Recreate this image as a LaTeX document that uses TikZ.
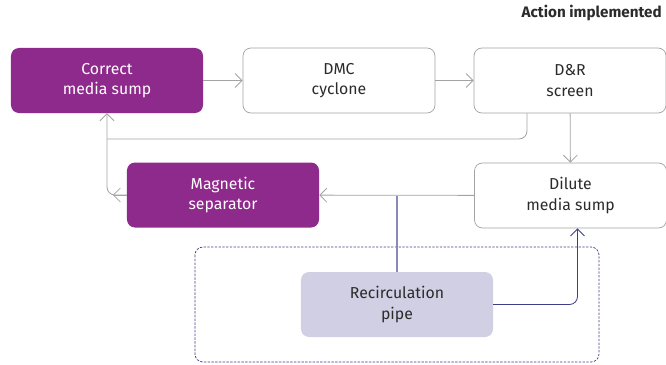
\documentclass[tikz,border=0pt]{standalone}
\usepackage{fontspec}
\setmainfont{Fira Sans}
\usetikzlibrary{arrows.meta}
\definecolor{sumppurple}{HTML}{8E2A8C}
\definecolor{flowgrey}{HTML}{A3A3A3}
\definecolor{pipenavy}{HTML}{3D3D8A}
\definecolor{pipelight}{HTML}{8A8AB8}
\definecolor{pipefill}{HTML}{D1CFE4}
\definecolor{textdark}{HTML}{2B2B2B}
\tikzset{
  unit/.style={rounded corners=0.24cm,minimum width=5.76cm,minimum height=1.95cm,align=center,font=\fontsize{13.5}{17.5}\selectfont},
  plainunit/.style={unit,draw=flowgrey,fill=white,text=textdark,line width=0.6pt},
  actunit/.style={unit,fill=sumppurple,text=white},
  pipeunit/.style={unit,fill=pipefill,text=textdark},
  flow/.style={draw=flowgrey,line width=0.7pt,-{Straight Barb[length=6pt,width=12pt]}},
  flowline/.style={draw=flowgrey,line width=0.7pt},
  pipe/.style={draw=pipenavy,line width=0.7pt},
  pipefeed/.style={draw=pipelight,line width=1pt}
}
\begin{document}
\begin{tikzpicture}[x=0.03cm,y=-0.03cm]
\useasboundingbox (0,0) rectangle (666,365);
\node[anchor=north east,font=\fontsize{13}{15}\selectfont\bfseries,text=textdark,inner sep=0pt] (title) at (662,5) {Action implemented};
% top row
\node[actunit] (cms) at (107,80.5) {Correct\\media sump};
\node[plainunit] (dmc) at (339,80.5) {DMC\\cyclone};
\node[plainunit] (drs) at (570,80.5) {D\&R\\screen};
% middle row
\node[actunit] (mag) at (223,195) {Magnetic\\separator};
\node[plainunit] (dil) at (570.5,195.5) {Dilute\\media sump};
% recirculation
\draw[pipenavy,dashed,dash pattern=on 2pt off 1.2pt,rounded corners=0.24cm,line width=0.6pt] (195,247) rectangle (599,362);
\node[pipeunit] (pipe) at (397,304.5) {Recirculation\\pipe};
\coordinate (jn) at (107,139);
\draw[flow] (cms) -- (dmc);
\draw[flow] (dmc) -- (drs);
\draw[flow] (drs) -- (dil);
\draw[flow] (dil) -- (mag);
\draw[flowline,rounded corners=0.24cm] ([xshift=-1.29cm]drs.south) |- (jn);
\draw[flow,rounded corners=0.24cm] (mag.west) -| (cms.south);
\draw[flow] (mag.west) -- ++(-14,0);
\draw[pipefeed] (pipe.north) -- (pipe.north |- dil.west);
\draw[pipe,-{Straight Barb[length=6pt,width=12pt]},rounded corners=0.24cm] (pipe.east) -| ([xshift=0.21cm]dil.south);
\end{tikzpicture}
\end{document}
